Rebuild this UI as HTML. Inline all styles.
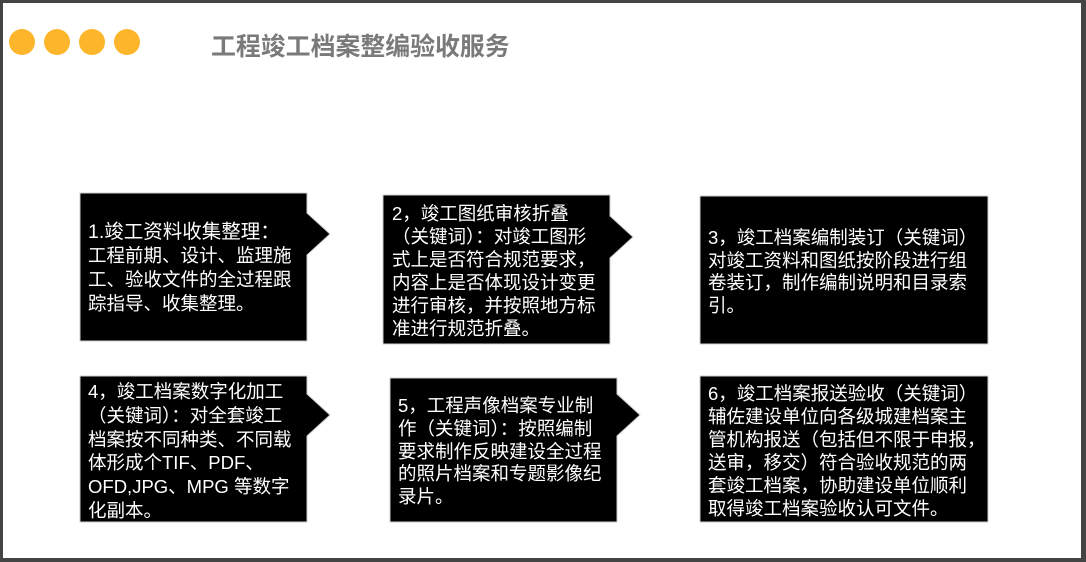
<!DOCTYPE html>
<html><head><meta charset="utf-8"><style>
*{margin:0;padding:0;box-sizing:border-box}
body{width:1086px;height:562px;background:#444;position:relative;overflow:hidden;font-family:"Liberation Sans","Noto Sans CJK SC","WenQuanYi Zen Hei",sans-serif}
#pg{position:absolute;left:3px;top:3px;width:1078px;height:555px;background:#fff}
.t{position:absolute;color:#fff;font-size:18.5px;white-space:nowrap;line-height:23px}
.dot{position:absolute;width:26px;height:26px;border-radius:50%;background:#FDB62B;top:29px}
</style></head><body>
<div id="pg"></div>
<div class="dot" style="left:9px"></div>
<div class="dot" style="left:44px"></div>
<div class="dot" style="left:79px"></div>
<div class="dot" style="left:114px"></div>
<div style="position:absolute;left:211px;top:27px;font-size:24.9px;font-weight:bold;color:#7a7a7a;white-space:nowrap">工程竣工档案整编验收服务</div>
<svg width="1086" height="562" style="position:absolute;left:0;top:0">
<g fill="#000" stroke="#ccc" stroke-width="1">
<polygon points="80,193 307,193 307,213 330,234 307,255 307,341 80,341"/>
<polygon points="383,195 610,195 610,216 633,237 610,258 610,344 383,344"/>
<rect x="700" y="196" width="288" height="148"/>
<polygon points="80,376 307,376 307,394 330,415 307,436 307,522 80,522"/>
<polygon points="390,378 617,378 617,394 640,415 617,436 617,522 390,522"/>
<rect x="700" y="376" width="288" height="146"/>
</g>
</svg>
<div class="t" style="left:88px;top:220px;line-height:24px"><span style="font-size:19.5px">1.竣工资料收集整理：</span><br>工程前期、设计、监理施<br>工、验收文件的全过程跟<br>踪指导、收集整理。</div>
<div class="t" style="left:392px;top:202px">2，竣工图纸审核折叠<br>（关键词）：对竣工图形<br>式上是否符合规范要求，<br>内容上是否体现设计变更<br>进行审核，并按照地方标<br>准进行规范折叠。</div>
<div class="t" style="left:708px;top:227px;line-height:22.5px">3，竣工档案编制装订（关键词）<br>对竣工资料和图纸按阶段进行组<br>卷装订，制作编制说明和目录索<br>引。</div>
<div class="t" style="left:88px;top:380px;line-height:23.8px">4，竣工档案数字化加工<br>（关键词）：对全套竣工<br>档案按不同种类、不同载<br>体形成个TIF、PDF、<br>OFD,JPG、MPG 等数字<br>化副本。</div>
<div class="t" style="left:398px;top:395px;line-height:22.8px">5，工程声像档案专业制<br>作（关键词）：按照编制<br>要求制作反映建设全过程<br>的照片档案和专题影像纪<br>录片。</div>
<div class="t" style="left:708px;top:382px">6，竣工档案报送验收（关键词）<br>辅佐建设单位向各级城建档案主<br>管机构报送（包括但不限于申报，<br>送审，移交）符合验收规范的两<br>套竣工档案，协助建设单位顺利<br>取得竣工档案验收认可文件。</div>
</body></html>
